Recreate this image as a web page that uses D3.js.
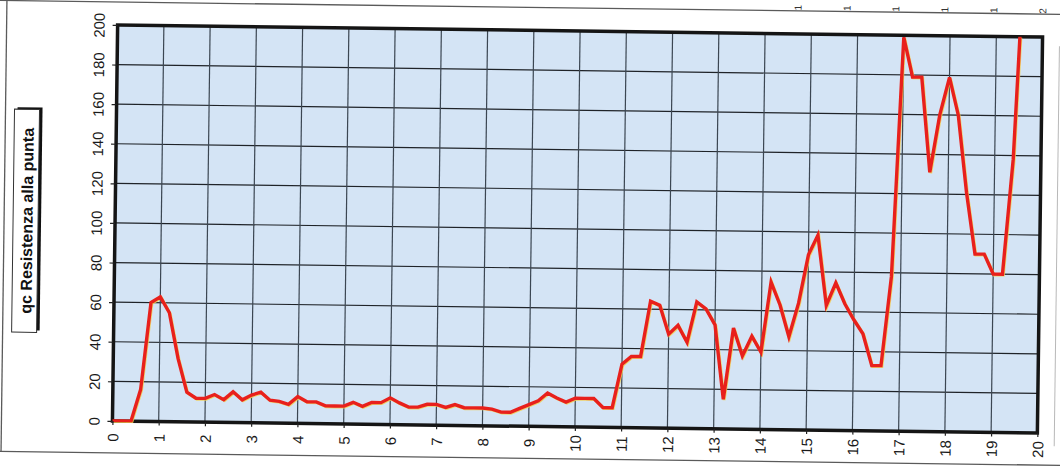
<!DOCTYPE html>
<html>
<head>
<meta charset="utf-8">
<script src="https://cdn.jsdelivr.net/npm/d3@7"></script>
<style>
  body { margin: 0; background: #ffffff; }
  text { font-family: "Liberation Sans", Arial, sans-serif; }
</style>
</head>
<body>
<script>
// depth (m) and qc readings
var depth = [0, 0.2, 0.4, 0.6, 0.8, 1.0, 1.2, 1.4, 1.6, 1.8,
             2.0, 2.2, 2.4, 2.6, 2.8, 3.0, 3.2, 3.4, 3.6, 3.8,
             4.0, 4.2, 4.4, 4.6, 4.8, 5.0, 5.2, 5.4, 5.6, 5.8,
             6.0, 6.2, 6.4, 6.6, 6.8, 7.0, 7.2, 7.4, 7.6, 7.8,
             8.0, 8.2, 8.4, 8.6, 8.8, 9.0, 9.2, 9.4, 9.6, 9.8,
             10.0, 10.2, 10.4, 10.6, 10.8, 11.0, 11.2, 11.4, 11.6, 11.8,
             12.0, 12.2, 12.4, 12.6, 12.8, 13.0, 13.2, 13.4, 13.6, 13.8,
             14.0, 14.2, 14.4, 14.6, 14.8, 15.0, 15.2, 15.4, 15.6, 15.8,
             16.0, 16.2, 16.4, 16.6, 16.8, 17.0, 17.2, 17.4, 17.6, 17.8,
             18.0, 18.2, 18.4, 18.6, 18.8, 19.0, 19.2, 19.4, 19.6];
var qc = [0, 0, 0, 16, 60, 63, 55, 32, 15, 12,
          12, 14, 11.5, 15.5, 11.5, 14, 15.5, 11.5, 11, 9.5,
          13.5, 11, 11, 9, 9, 9, 11, 9, 11, 11,
          13.5, 11, 9, 9, 10.5, 10.5, 9, 10.5, 9, 9,
          9, 8.5, 7, 7, 9, 11, 13, 17, 14.5, 12.5,
          14.5, 14.5, 14.5, 10, 10, 32, 36, 36, 64, 62,
          47.5, 52, 43.5, 64, 60.5, 52.5, 15, 51, 37, 47,
          39, 74.5, 63, 47, 64, 88.5, 98.5, 63, 74.5, 64,
          56, 49, 33, 33, 78, 199, 179, 179, 131, 160,
          179, 160, 121, 90, 90, 80, 80, 138, 250];

var xTicks = [0, 1, 2, 3, 4, 5, 6, 7, 8, 9, 10, 11, 12, 13, 14, 15, 16, 17, 18, 19, 20];
var yTicks = [0, 20, 40, 60, 80, 100, 120, 140, 160, 180, 200];
// what is left visible of the labels of the chart above (15..20)
var upperTicks = [15, 16, 17, 18, 19, 20];
var upperLabels = ["1", "1", "1", "1", "1", "2"];
var axisTitle = "qc Resistenza alla punta";

var W = 1060, H = 470;
var margin = {top: 31, left: 115},
    width = 925,
    height = 396;

var x = d3.scaleLinear().domain([0, 20]).range([0, width]);
var y = d3.scaleLinear().domain([0, 200]).range([height, 0]);
var xUp = d3.scaleLinear().domain([15, 20]).range([795, 1040]);

var svg = d3.select("body").append("svg")
    .attr("width", W)
    .attr("height", H);

// the whole scan is slightly tilted
var page = svg.append("g")
    .attr("transform", "rotate(0.75,577,229)");

// paper frame
page.append("line").attr("x1", -20).attr("x2", 1080).attr("y1", 8).attr("y2", 8)
    .style("stroke", "#5a5a5a").style("stroke-width", 1.3);
page.append("line").attr("x1", -20).attr("x2", 1080).attr("y1", 459).attr("y2", 459)
    .style("stroke", "#5a5a5a").style("stroke-width", 1.3);
page.append("line").attr("x1", 4).attr("x2", 4).attr("y1", 8).attr("y2", 459)
    .style("stroke", "#5a5a5a").style("stroke-width", 1.3);
page.append("line").attr("x1", 1057).attr("x2", 1057).attr("y1", 40).attr("y2", 440)
    .style("stroke", "#b8b8b8").style("stroke-width", 1);

// remains of the tick labels from the chart above
page.selectAll("text.up")
    .data(upperTicks)
    .enter().append("text")
    .attr("class", "up")
    .attr("transform", function(d) { return "translate(" + xUp(d) + ",2) rotate(-90)"; })
    .attr("text-anchor", "end")
    .attr("dominant-baseline", "central")
    .style("font-size", "10px")
    .style("fill", "#333")
    .text(function(d, i) { return upperLabels[i]; });

// axis title with shadowed box
var title = page.append("g")
    .attr("transform", "translate(25.5,228) rotate(-90)");
title.append("rect")
    .attr("x", -111.5 + 2).attr("y", -12.5 + 3)
    .attr("width", 223).attr("height", 25)
    .style("fill", "#111");
title.append("rect")
    .attr("x", -111.5).attr("y", -12.5)
    .attr("width", 223).attr("height", 25)
    .style("fill", "#fff")
    .style("stroke", "#333")
    .style("stroke-width", 1);
title.append("text")
    .attr("x", 0).attr("y", 1.5)
    .attr("text-anchor", "middle")
    .attr("dominant-baseline", "central")
    .style("font-size", "16px")
    .style("font-weight", "bold")
    .style("fill", "#111")
    .text(axisTitle);

var g = page.append("g")
    .attr("transform", "translate(" + margin.left + "," + margin.top + ")");

g.append("defs").append("clipPath").attr("id", "plotclip")
    .append("rect").attr("x", -3).attr("y", 0).attr("width", width + 3).attr("height", height + 1);

// plot background
g.append("rect")
    .attr("width", width)
    .attr("height", height)
    .style("fill", "#d4e4f5");

// grid
g.selectAll("line.hgrid")
    .data(yTicks)
    .enter().append("line")
    .attr("class", "hgrid")
    .attr("x1", 0).attr("x2", width)
    .attr("y1", function(d) { return y(d); })
    .attr("y2", function(d) { return y(d); })
    .style("stroke", "#1f2328")
    .style("stroke-width", 1.2);

g.selectAll("line.vgrid")
    .data(xTicks)
    .enter().append("line")
    .attr("class", "vgrid")
    .attr("y1", 0).attr("y2", height)
    .attr("x1", function(d) { return x(d); })
    .attr("x2", function(d) { return x(d); })
    .style("stroke", "#3b4652")
    .style("stroke-width", 1.2);

// plot border
g.append("rect")
    .attr("width", width)
    .attr("height", height)
    .style("fill", "none")
    .style("stroke", "#151515")
    .style("stroke-width", 3.5);

// the qc line
var valueline = d3.line()
    .x(function(d, i) { return x(depth[i]); })
    .y(function(d) { return y(d); });

g.append("path")
    .datum(qc)
    .attr("clip-path", "url(#plotclip)")
    .attr("transform", "translate(0.9,0.9)")
    .attr("d", valueline)
    .style("fill", "none")
    .style("stroke", "#f3cf4f")
    .style("stroke-width", 3)
    .style("stroke-linejoin", "miter")
    .style("opacity", 0.85);

g.append("path")
    .datum(qc)
    .attr("clip-path", "url(#plotclip)")
    .attr("d", valueline)
    .style("fill", "none")
    .style("stroke", "#e8201c")
    .style("stroke-width", 3.4)
    .style("stroke-linejoin", "miter");

// Y axis
var yAxis = g.append("g")
    .call(d3.axisLeft(y).tickValues(yTicks).tickSize(5).tickSizeOuter(0));
yAxis.select(".domain").remove();
yAxis.selectAll("line").style("stroke", "#222").style("stroke-width", 1.2);
yAxis.selectAll("text")
    .attr("x", null).attr("dy", null)
    .attr("transform", "translate(-18.5,0) rotate(-90)")
    .attr("text-anchor", "middle")
    .attr("dominant-baseline", "central")
    .style("font-family", "Liberation Sans, Arial, sans-serif")
    .style("font-size", "15px")
    .style("fill", "#1a1a1a");

// X axis
var xAxis = g.append("g")
    .attr("transform", "translate(0," + height + ")")
    .call(d3.axisBottom(x).tickValues(xTicks).tickSize(4).tickSizeOuter(0));
xAxis.select(".domain").remove();
xAxis.selectAll("line").style("stroke", "#222").style("stroke-width", 1.2);
xAxis.selectAll("text")
    .attr("y", null).attr("dy", null)
    .attr("transform", "translate(0,16.5) rotate(-90)")
    .attr("text-anchor", "middle")
    .attr("dominant-baseline", "central")
    .style("font-family", "Liberation Sans, Arial, sans-serif")
    .style("font-size", "15px")
    .style("fill", "#1a1a1a");
</script>
</body>
</html>
